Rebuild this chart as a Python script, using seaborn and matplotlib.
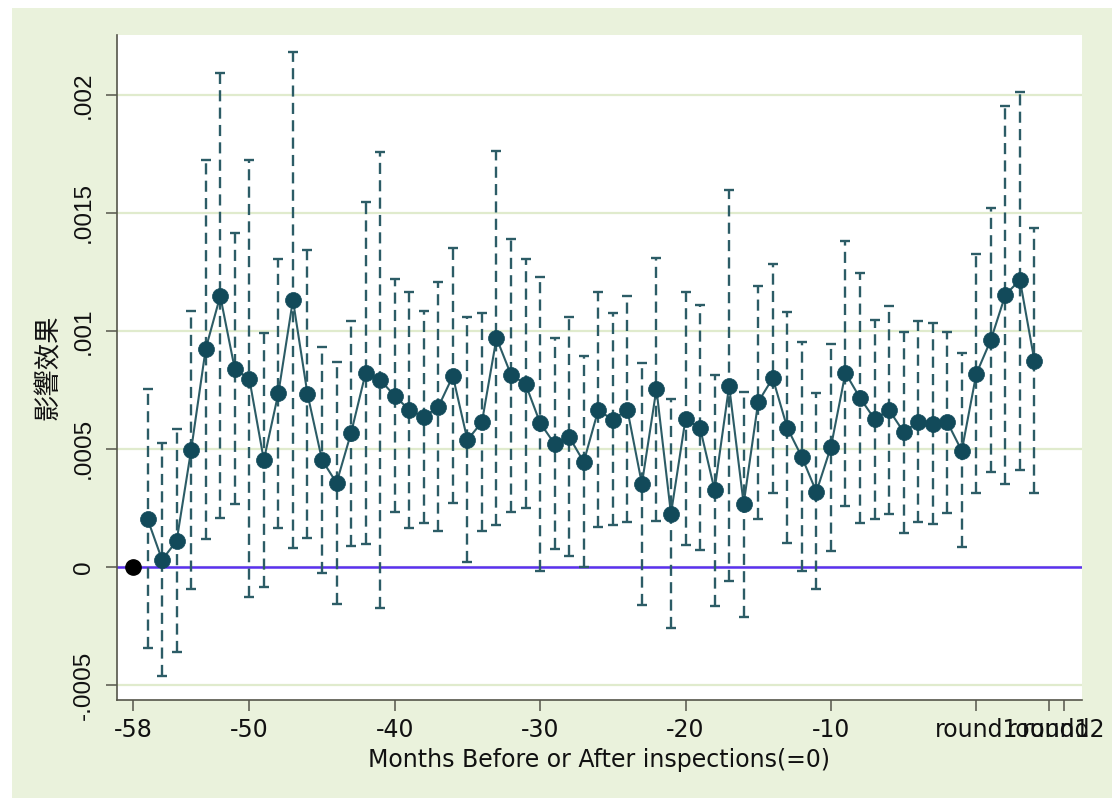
import matplotlib
matplotlib.use("Agg")
import matplotlib.pyplot as plt
from matplotlib.patches import Rectangle
import pandas as pd
import seaborn as sns

# months relative to the inspection (0); -58 is the reference month
months = list(range(-57, 5))

# estimated effect per month
coef = [0.000203, 0.000030, 0.000110, 0.000496, 0.000924, 0.001148, 0.000839, 0.000797,
        0.000453, 0.000737, 0.001131, 0.000733, 0.000453, 0.000356, 0.000568, 0.000822,
        0.000792, 0.000725, 0.000665, 0.000636, 0.000678, 0.000809, 0.000538, 0.000614,
        0.000970, 0.000814, 0.000775, 0.000610, 0.000521, 0.000551, 0.000445, 0.000665,
        0.000623, 0.000667, 0.000352, 0.000754, 0.000225, 0.000627, 0.000589, 0.000326,
        0.000767, 0.000267, 0.000699, 0.000800, 0.000589, 0.000466, 0.000318, 0.000508,
        0.000822, 0.000716, 0.000627, 0.000665, 0.000572, 0.000614, 0.000606, 0.000614,
        0.000492, 0.000818, 0.000962, 0.001153, 0.001216, 0.000873]

# upper bound of the confidence interval
ci_hi = [0.000754, 0.000525, 0.000585, 0.001085, 0.001725, 0.002095, 0.001415, 0.001725,
         0.000990, 0.001305, 0.002180, 0.001343, 0.000932, 0.000869, 0.001042, 0.001547,
         0.001758, 0.001220, 0.001165, 0.001085, 0.001208, 0.001352, 0.001059, 0.001076,
         0.001763, 0.001390, 0.001305, 0.001229, 0.000970, 0.001059, 0.000894, 0.001165,
         0.001076, 0.001146, 0.000864, 0.001309, 0.000712, 0.001165, 0.001110, 0.000814,
         0.001597, 0.000742, 0.001190, 0.001284, 0.001080, 0.000953, 0.000737, 0.000945,
         0.001381, 0.001246, 0.001047, 0.001106, 0.000996, 0.001042, 0.001034, 0.000996,
         0.000907, 0.001326, 0.001521, 0.001953, 0.002013, 0.001436]

# lower bound of the confidence interval
ci_lo = [-0.000343, -0.000462, -0.000360, -0.000093, 0.000119, 0.000208, 0.000267, -0.000127,
         -0.000085, 0.000165, 0.000080, 0.000123, -0.000025, -0.000157, 0.000089, 0.000097,
         -0.000174, 0.000233, 0.000165, 0.000186, 0.000153, 0.000270, 0.000020, 0.000153,
         0.000178, 0.000233, 0.000250, -0.000017, 0.000076, 0.000047, 0.000000, 0.000169,
         0.000178, 0.000190, -0.000161, 0.000195, -0.000258, 0.000093, 0.000072, -0.000165,
         -0.000059, -0.000212, 0.000203, 0.000313, 0.000100, -0.000017, -0.000093, 0.000068,
         0.000258, 0.000186, 0.000203, 0.000225, 0.000144, 0.000190, 0.000182, 0.000229,
         0.000085, 0.000313, 0.000403, 0.000352, 0.000411, 0.000313]

base_month = [-58]
base_coef = [0.0]

xtick_pos = [-58, -50, -40, -30, -20, -10, 0, 5, 6]
xtick_lab = ['-58', '-50', '-40', '-30', '-20', '-10', 'round1', 'round1', 'round2']
ytick_pos = [-0.0005, 0, 0.0005, 0.001, 0.0015, 0.002]
ytick_lab = ['-.0005', '0', '.0005', '.001', '.0015', '.002']

df = pd.DataFrame({'month': months, 'coef': coef, 'lo': ci_lo, 'hi': ci_hi})

sns.set_style("white")
plt.rcParams['font.family'] = ['DejaVu Sans', 'Noto Sans CJK TC']
plt.rcParams['lines.scale_dashes'] = False

bg = '#eaf2dc'
grid_col = '#e0ebcd'
spine_col = '#55554a'
teal = '#124a5a'
bar_col = '#2c5c66'

fig = plt.figure(figsize=(11.15, 8.05), dpi=100, facecolor='white')
# light green graph region with a thin white margin
fig.patches.append(Rectangle((12 / 1115, 7 / 805), 1100 / 1115, 790 / 805,
                             transform=fig.transFigure, facecolor=bg,
                             edgecolor='none', zorder=-10))
ax = fig.add_axes([117 / 1115, 105 / 805, 965 / 1115, 665 / 805])
ax.set_zorder(1)
ax.set_facecolor('white')

# horizontal grid
ax.set_axisbelow(True)
ax.yaxis.grid(True, color=grid_col, lw=1.6)
ax.xaxis.grid(False)

# zero line
ax.axhline(0, color='#5a30f0', lw=1.8, zorder=2)

# dashed confidence intervals with caps
eb = ax.errorbar(df['month'], df['coef'],
                 yerr=[df['coef'] - df['lo'], df['hi'] - df['coef']],
                 fmt='none', ecolor=bar_col, elinewidth=1.7,
                 capsize=3.8, capthick=1.7, zorder=3)
eb[2][0].set_linestyle((0, (8, 4.5)))

# point estimates
sns.lineplot(data=df, x='month', y='coef', ax=ax, color=bar_col, lw=1.5,
             marker='o', markersize=11.5, markerfacecolor=teal,
             markeredgecolor=teal, markeredgewidth=0.5, zorder=4)

# reference month
ax.plot(base_month, base_coef, 'o', color='black', markersize=11, zorder=5)

ax.set_xlim(-59.1, 7.27)
ax.set_ylim(-0.000564, 0.002254)

ax.set_xticks(xtick_pos)
ax.set_xticklabels(xtick_lab, fontsize=17, family='DejaVu Sans')
ax.set_yticks(ytick_pos)
ax.set_yticklabels(ytick_lab, rotation=90, va='center', fontsize=17.5,
                   family='Liberation Sans')

ax.tick_params(axis='both', direction='out', length=8, width=1.1,
               color=spine_col, labelcolor='#111111',
               bottom=True, left=True, top=False, right=False)
ax.tick_params(axis='x', pad=5)
ax.tick_params(axis='y', pad=8)

for side in ['top', 'right']:
    ax.spines[side].set_visible(False)
for side in ['left', 'bottom']:
    ax.spines[side].set_color(spine_col)
    ax.spines[side].set_linewidth(1.2)

ax.set_xlabel('Months Before or After inspections(=0)', fontsize=17,
              family='DejaVu Sans', color='#111111', labelpad=4)
ax.set_ylabel('影響效果', fontsize=19, family=['Noto Sans CJK TC', 'DejaVu Sans'],
              color='#111111', labelpad=8)

fig.savefig('out.png', dpi=100, facecolor=fig.get_facecolor())
